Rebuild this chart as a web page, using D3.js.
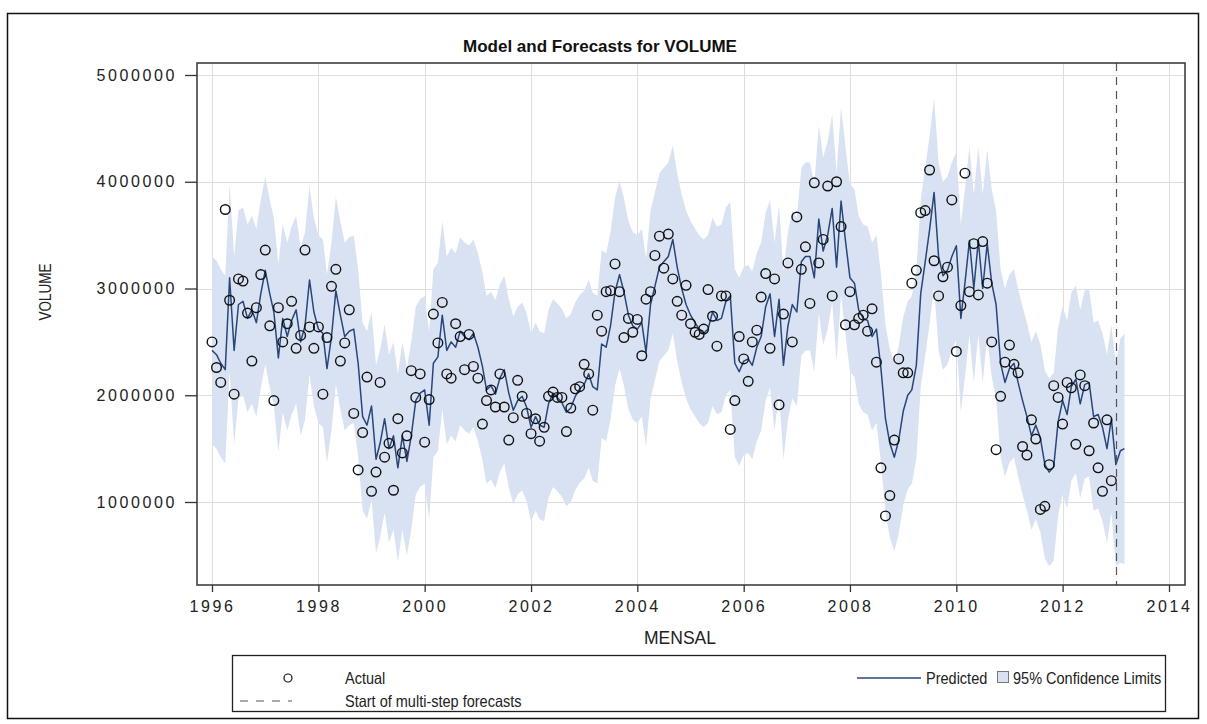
<!DOCTYPE html>
<html>
<head>
<meta charset="utf-8">
<script src="https://cdn.jsdelivr.net/npm/d3@7"></script>
<style>
  html, body { margin: 0; padding: 0; background: #fff; }
  svg { display: block; }
  .tick-lbl { font-family: "Liberation Sans", Arial, sans-serif; font-size: 16px; letter-spacing: 2.6px; fill: #222; }
  .lbl { font-family: "Liberation Sans", Arial, sans-serif; fill: #222; }
</style>
</head>
<body>
<svg id="chart" width="1207" height="724"></svg>
<script>
// Monthly VOLUME series, Jan 1996 - Dec 2012 (values in millions)
const actual = [
  2.50, 2.26, 2.12, 3.74, 2.89, 2.01, 3.09, 3.07, 2.77, 2.32, 2.82, 3.13,
  3.36, 2.65, 1.95, 2.82, 2.50, 2.67, 2.88, 2.44, 2.56, 3.36, 2.64, 2.44,
  2.64, 2.01, 2.54, 3.02, 3.18, 2.32, 2.49, 2.80, 1.83, 1.30, 1.65, 2.17,
  1.10, 1.28, 2.12, 1.42, 1.55, 1.11, 1.78, 1.46, 1.62, 2.23, 1.98, 2.20,
  1.56, 1.96, 2.76, 2.49, 2.87, 2.20, 2.16, 2.67, 2.55, 2.24, 2.57, 2.27,
  2.16, 1.73, 1.95, 2.05, 1.89, 2.20, 1.89, 1.58, 1.79, 2.14, 1.99, 1.83,
  1.64, 1.78, 1.57, 1.70, 1.99, 2.03, 1.98, 1.98, 1.66, 1.88, 2.06, 2.08,
  2.29, 2.20, 1.86, 2.75, 2.60, 2.97, 2.98, 3.23, 2.97, 2.54, 2.72, 2.59,
  2.71, 2.37, 2.90, 2.97, 3.31, 3.49, 3.19, 3.51, 3.09, 2.88, 2.75, 3.03,
  2.67, 2.59, 2.57, 2.62, 2.99, 2.74, 2.46, 2.93, 2.93, 1.68, 1.95, 2.55,
  2.34, 2.13, 2.50, 2.61, 2.92, 3.14, 2.44, 3.09, 1.91, 2.76, 3.24, 2.50,
  3.67, 3.18, 3.39, 2.86, 3.99, 3.24, 3.46, 3.96, 2.93, 4.00, 3.58, 2.66,
  2.97, 2.66, 2.72, 2.75, 2.60, 2.81, 2.31, 1.32, 0.87, 1.06, 1.58, 2.34,
  2.21, 2.21, 3.05, 3.17, 3.71, 3.73, 4.11, 3.26, 2.93, 3.11, 3.20, 3.83,
  2.41, 2.84, 4.08, 2.97, 3.42, 2.94, 3.44, 3.05, 2.50, 1.49, 1.99, 2.31,
  2.47, 2.29, 2.21, 1.52, 1.44, 1.77, 1.59, 0.93, 0.96, 1.35, 2.09, 1.98,
  1.73, 2.12, 2.07, 1.54, 2.19, 2.09, 1.48, 1.74, 1.32, 1.10, 1.77, 1.20
];

// One-step-ahead predictions, Jan 1996 - Mar 2013 (millions)
const predicted = [
  2.42, 2.38, 2.30, 2.24, 3.10, 2.42, 2.85, 2.88, 2.72, 2.80, 2.68, 2.95,
  3.17, 2.95, 2.78, 2.35, 2.72, 2.55, 2.70, 2.80, 2.50, 2.65, 3.08, 2.78,
  2.62, 2.58, 2.25, 2.55, 2.98, 2.75, 2.55, 2.60, 2.62, 2.30, 1.80, 1.72,
  1.90, 1.40, 1.55, 1.78, 1.50, 1.62, 1.32, 1.62, 1.38, 1.62, 1.95, 2.02,
  2.05, 1.72, 2.30, 2.36, 2.75, 2.42, 2.50, 2.45, 2.60, 2.55, 2.52, 2.58,
  2.45, 2.27, 2.05, 2.09, 2.01, 2.16, 2.24, 2.02, 1.86, 1.95, 1.99, 1.89,
  1.70, 1.80, 1.72, 1.70, 1.92, 2.02, 1.98, 1.93, 1.84, 1.88, 1.99, 2.06,
  2.10, 2.20, 2.08, 2.05, 2.48, 2.45, 2.65, 2.97, 3.13, 2.97, 2.75, 2.65,
  2.62, 2.68, 2.40, 2.85, 3.02, 3.20, 3.25, 3.30, 3.46, 3.20, 3.00, 2.85,
  2.75, 2.68, 2.62, 2.58, 2.62, 2.78, 2.70, 2.72, 2.88, 2.93, 2.30, 2.22,
  2.32, 2.34, 2.28, 2.45, 2.55, 2.83, 2.95, 2.55, 2.90, 2.28, 2.65, 2.85,
  2.78, 3.25, 3.30, 3.30, 3.10, 3.65, 3.35, 3.50, 3.75, 3.20, 3.82, 3.45,
  3.10, 3.05, 2.80, 2.72, 2.70, 2.55, 2.62, 2.25, 1.78, 1.55, 1.42, 1.58,
  1.85, 2.00, 2.05, 2.28, 2.95, 3.25, 3.55, 3.90, 3.30, 3.12, 3.17, 3.30,
  3.40, 2.72, 3.05, 3.45, 3.00, 3.45, 3.00, 3.42, 3.05, 2.85, 2.30, 2.12,
  2.25, 2.30, 2.12, 1.95, 1.80, 1.62, 1.72, 1.60, 1.35, 1.28, 1.33, 1.75,
  1.95, 1.82, 2.08, 2.15, 1.92, 2.10, 2.12, 1.80, 1.82, 1.70, 1.50, 1.78,
  1.35, 1.48, 1.50
];

// 95% confidence limits (millions)
const lower95 = [
  1.54, 1.50, 1.42, 1.36, 2.22, 1.54, 1.97, 2.00, 1.84, 1.92, 1.80, 2.07,
  2.29, 2.07, 1.90, 1.47, 1.84, 1.67, 1.82, 1.92, 1.62, 1.77, 2.20, 1.90,
  1.74, 1.70, 1.37, 1.67, 2.10, 1.87, 1.67, 1.72, 1.74, 1.42, 0.92, 0.84,
  1.02, 0.52, 0.67, 0.90, 0.62, 0.74, 0.44, 0.74, 0.50, 0.74, 1.07, 1.14,
  1.17, 0.84, 1.42, 1.48, 1.87, 1.54, 1.62, 1.57, 1.72, 1.67, 1.64, 1.70,
  1.57, 1.39, 1.17, 1.21, 1.13, 1.28, 1.36, 1.14, 0.98, 1.07, 1.11, 1.01,
  0.82, 0.92, 0.84, 0.82, 1.04, 1.14, 1.10, 1.05, 0.96, 1.00, 1.11, 1.18,
  1.22, 1.32, 1.20, 1.17, 1.60, 1.57, 1.77, 2.09, 2.25, 2.09, 1.87, 1.77,
  1.74, 1.80, 1.52, 1.97, 2.14, 2.32, 2.37, 2.42, 2.58, 2.32, 2.12, 1.97,
  1.87, 1.80, 1.74, 1.70, 1.74, 1.90, 1.82, 1.84, 2.00, 2.05, 1.42, 1.34,
  1.44, 1.46, 1.40, 1.57, 1.67, 1.95, 2.07, 1.67, 2.02, 1.40, 1.77, 1.97,
  1.90, 2.37, 2.42, 2.42, 2.22, 2.77, 2.47, 2.62, 2.87, 2.32, 2.94, 2.57,
  2.22, 2.17, 1.92, 1.84, 1.82, 1.67, 1.74, 1.37, 0.90, 0.67, 0.54, 0.70,
  0.97, 1.12, 1.17, 1.40, 2.07, 2.37, 2.67, 3.02, 2.42, 2.24, 2.29, 2.42,
  2.52, 1.84, 2.17, 2.57, 2.12, 2.57, 2.12, 2.54, 2.17, 1.97, 1.42, 1.24,
  1.37, 1.42, 1.24, 1.07, 0.92, 0.74, 0.84, 0.72, 0.47, 0.40, 0.45, 0.87,
  1.07, 0.94, 1.20, 1.27, 1.04, 1.22, 1.24, 0.92, 0.94, 0.82, 0.62, 0.90,
  0.40, 0.43, 0.42
];
const upper95 = [
  3.30, 3.26, 3.18, 3.12, 3.98, 3.30, 3.73, 3.76, 3.60, 3.68, 3.56, 3.83,
  4.05, 3.83, 3.66, 3.23, 3.60, 3.43, 3.58, 3.68, 3.38, 3.53, 3.96, 3.66,
  3.50, 3.46, 3.13, 3.43, 3.86, 3.63, 3.43, 3.48, 3.50, 3.18, 2.68, 2.60,
  2.78, 2.28, 2.43, 2.66, 2.38, 2.50, 2.20, 2.50, 2.26, 2.50, 2.83, 2.90,
  2.93, 2.60, 3.18, 3.24, 3.63, 3.30, 3.38, 3.33, 3.48, 3.43, 3.40, 3.46,
  3.33, 3.15, 2.93, 2.97, 2.89, 3.04, 3.12, 2.90, 2.74, 2.83, 2.87, 2.77,
  2.58, 2.68, 2.60, 2.58, 2.80, 2.90, 2.86, 2.81, 2.72, 2.76, 2.87, 2.94,
  2.98, 3.08, 2.96, 2.93, 3.36, 3.33, 3.53, 3.85, 4.01, 3.85, 3.63, 3.53,
  3.50, 3.56, 3.28, 3.73, 3.90, 4.08, 4.13, 4.18, 4.34, 4.08, 3.88, 3.73,
  3.63, 3.56, 3.50, 3.46, 3.50, 3.66, 3.58, 3.60, 3.76, 3.81, 3.18, 3.10,
  3.20, 3.22, 3.16, 3.33, 3.43, 3.71, 3.83, 3.43, 3.78, 3.16, 3.53, 3.73,
  3.66, 4.13, 4.18, 4.18, 3.98, 4.53, 4.23, 4.38, 4.63, 4.08, 4.70, 4.33,
  3.98, 3.93, 3.68, 3.60, 3.58, 3.43, 3.50, 3.13, 2.66, 2.43, 2.30, 2.46,
  2.73, 2.88, 2.93, 3.16, 3.83, 4.13, 4.43, 4.78, 4.18, 4.00, 4.05, 4.18,
  4.28, 3.60, 3.93, 4.33, 3.88, 4.33, 3.88, 4.30, 3.93, 3.73, 3.18, 3.00,
  3.13, 3.18, 3.00, 2.83, 2.68, 2.50, 2.60, 2.48, 2.23, 2.16, 2.21, 2.63,
  2.83, 2.70, 2.96, 3.03, 2.80, 2.98, 3.00, 2.68, 2.70, 2.58, 2.38, 2.66,
  2.30, 2.53, 2.58
];

const xTickYears = [1996, 1998, 2000, 2002, 2004, 2006, 2008, 2010, 2012, 2014];
const yTickValues = [1000000, 2000000, 3000000, 4000000, 5000000];
const forecastStart = new Date(2013, 0, 1);
const UNIT = 1e6;

// month dates for every prediction (the actual series uses the first 204)
const months = d3.timeMonth.range(new Date(1996, 0, 1), new Date(2013, 3, 1));

const svg = d3.select("#chart");
const plot = { left: 197, right: 1185, top: 63, bottom: 585 };

const x = d3.scaleTime()
  .domain([new Date(1996, 0, 1), new Date(2014, 0, 1)])
  .range([212, 1169]);
const y = d3.scaleLinear()
  .domain([0, 5000000])
  .range([608.75, 75]);

// condensed label: taller glyphs squeezed to the width of a smaller size
function condensedText(parent, str, attrs, size, widthSize) {
  const t = parent.append("text").attr("class", "lbl");
  Object.entries(attrs).forEach(([k, v]) => t.attr(k, v));
  t.style("font-size", widthSize + "px").text(str);
  const w = t.node().getComputedTextLength();
  t.style("font-size", size + "px")
    .attr("textLength", w)
    .attr("lengthAdjust", "spacingAndGlyphs");
  return t;
}

// outer frame
svg.append("rect")
  .attr("x", 7.5).attr("y", 13.5).attr("width", 1191).attr("height", 705)
  .attr("fill", "#fff").attr("stroke", "#111").attr("stroke-width", 1.5);

// title
svg.append("text")
  .attr("x", 600).attr("y", 52).attr("text-anchor", "middle")
  .style("font-family", "'Liberation Sans', Arial, sans-serif")
  .style("font-weight", "bold").style("font-size", "17px").style("fill", "#111")
  .text("Model and Forecasts for VOLUME");

svg.append("defs").append("clipPath").attr("id", "plotClip")
  .append("rect")
  .attr("x", plot.left).attr("y", plot.top)
  .attr("width", plot.right - plot.left).attr("height", plot.bottom - plot.top);

// grid lines
const grid = svg.append("g").attr("stroke", "#dedede").attr("stroke-width", 1);
xTickYears.forEach(yr => {
  const gx = Math.round(x(new Date(yr, 0, 1))) + 0.5;
  grid.append("line").attr("x1", gx).attr("x2", gx)
    .attr("y1", plot.top).attr("y2", plot.bottom);
});
yTickValues.forEach(v => {
  const gy = Math.round(y(v)) + 0.5;
  grid.append("line").attr("x1", plot.left).attr("x2", plot.right)
    .attr("y1", gy).attr("y2", gy);
});

const layer = svg.append("g").attr("clip-path", "url(#plotClip)");

// confidence band
const band = d3.area()
  .x((d, i) => x(months[i]))
  .y0((d, i) => y(lower95[i] * UNIT))
  .y1((d, i) => y(upper95[i] * UNIT));
layer.append("path")
  .datum(predicted)
  .attr("d", band)
  .attr("fill", "#d8e2f2");

// predicted line
const line = d3.line()
  .x((d, i) => x(months[i]))
  .y(d => y(d * UNIT));
layer.append("path")
  .datum(predicted)
  .attr("d", line)
  .attr("fill", "none")
  .attr("stroke", "#28467c")
  .attr("stroke-width", 1.5)
  .attr("stroke-linejoin", "round");

// actual observations
layer.append("g")
  .selectAll("circle")
  .data(actual)
  .join("circle")
  .attr("cx", (d, i) => x(months[i]))
  .attr("cy", d => y(d * UNIT))
  .attr("r", 4.8)
  .attr("fill", "none")
  .attr("stroke", "#111")
  .attr("stroke-width", 1.4);

// start of multi-step forecasts
const fx = Math.round(x(forecastStart)) + 0.5;
layer.append("line")
  .attr("x1", fx).attr("x2", fx)
  .attr("y1", plot.top).attr("y2", plot.bottom)
  .attr("stroke", "#555").attr("stroke-width", 1.2)
  .attr("stroke-dasharray", "8,6");

// plot border
svg.append("rect")
  .attr("x", plot.left).attr("y", plot.top)
  .attr("width", plot.right - plot.left).attr("height", plot.bottom - plot.top)
  .attr("fill", "none").attr("stroke", "#333").attr("stroke-width", 1.5);

// x axis
const xAxis = d3.axisBottom(x)
  .tickValues(xTickYears.map(yr => new Date(yr, 0, 1)))
  .tickFormat(d3.timeFormat("%Y"))
  .tickSize(7).tickSizeOuter(0).tickPadding(9);
const gx = svg.append("g")
  .attr("transform", `translate(0,${plot.bottom})`)
  .call(xAxis);
gx.select(".domain").remove();
gx.selectAll(".tick line").attr("stroke", "#333").attr("stroke-width", 1.3);
gx.selectAll(".tick text").attr("class", "tick-lbl").attr("font-size", null)
  .attr("font-family", null).attr("fill", null);

// y axis
const yAxis = d3.axisLeft(y)
  .tickValues(yTickValues)
  .tickFormat(d3.format("d"))
  .tickSize(12).tickSizeOuter(0).tickPadding(8);
const gy = svg.append("g")
  .attr("transform", `translate(${plot.left},0)`)
  .call(yAxis);
gy.select(".domain").remove();
gy.selectAll(".tick line").attr("stroke", "#333").attr("stroke-width", 1.3);
gy.selectAll(".tick text").attr("class", "tick-lbl").attr("font-size", null)
  .attr("font-family", null).attr("fill", null);

// axis labels
condensedText(svg, "VOLUME",
  { transform: "translate(51,292) rotate(-90)", "text-anchor": "middle" }, 16, 13.5);
condensedText(svg, "MENSAL",
  { x: 680, y: 644, "text-anchor": "middle" }, 17.5, 17.5);

// legend
const lg = svg.append("g");
lg.append("rect")
  .attr("x", 232.5).attr("y", 655.5).attr("width", 933).attr("height", 56)
  .attr("fill", "#fff").attr("stroke", "#222").attr("stroke-width", 1.3);
const row1 = 684, row2 = 707;
lg.append("circle").attr("cx", 288).attr("cy", row1 - 6).attr("r", 4)
  .attr("fill", "none").attr("stroke", "#111").attr("stroke-width", 1.2);
condensedText(lg, "Actual", { x: 345, y: row1 }, 16.5, 14.5);
lg.append("line").attr("x1", 857).attr("x2", 921)
  .attr("y1", row1 - 6).attr("y2", row1 - 6)
  .attr("stroke", "#28467c").attr("stroke-width", 1.5);
condensedText(lg, "Predicted", { x: 926, y: row1 }, 16.5, 14.5);
lg.append("rect").attr("x", 997.5).attr("y", row1 - 12.5).attr("width", 11).attr("height", 11)
  .attr("fill", "#d8e2f2").attr("stroke", "#777").attr("stroke-width", 1);
condensedText(lg, "95% Confidence Limits", { x: 1013, y: row1 }, 16.5, 14.5);
lg.append("line").attr("x1", 240).attr("x2", 292)
  .attr("y1", row2 - 6).attr("y2", row2 - 6)
  .attr("stroke", "#555").attr("stroke-width", 1.2)
  .attr("stroke-dasharray", "8,8");
condensedText(lg, "Start of multi-step forecasts", { x: 345, y: row2 }, 16.5, 14.5);
</script>
</body>
</html>
